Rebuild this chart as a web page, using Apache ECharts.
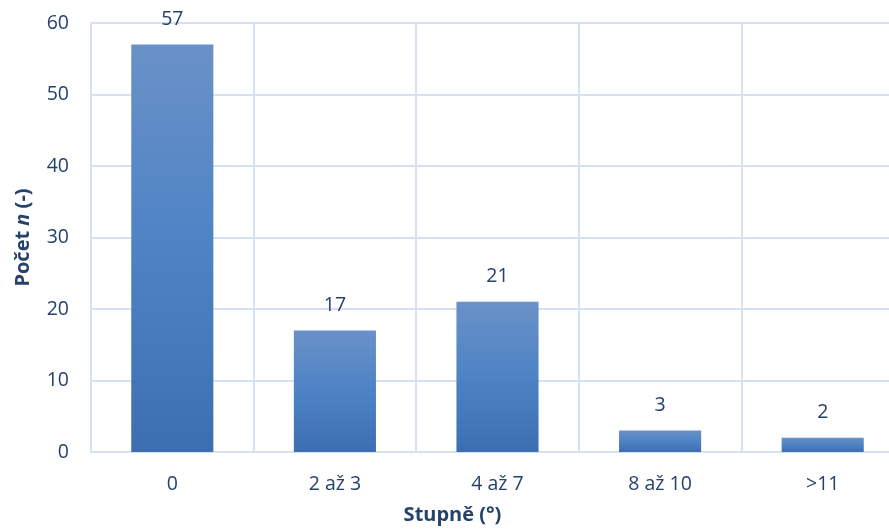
<!DOCTYPE html>
<html>
<head>
<meta charset="utf-8">
<script src="https://cdn.jsdelivr.net/npm/echarts@6/dist/echarts.min.js"></script>
<style>
  html, body { margin: 0; padding: 0; background: #ffffff; overflow: hidden; }
  /* the plot runs a little past the right edge of the window */
  #chart { width: 904px; height: 530px; }
</style>
</head>
<body>
<div id="chart"></div>
<script>
// Distribution of angles (degrees) by count
const categories = ['0', '2 až 3', '4 až 7', '8 až 10', '>11'];
const counts = [57, 17, 21, 3, 2];
const yTicks = { min: 0, max: 60, interval: 10 };

const textColor = '#25426c';
const gridColor = '#d6e1f1';
const fontFamily = '"Open Sans", "Noto Sans", sans-serif';

const chart = echarts.init(document.getElementById('chart'), null, { renderer: 'canvas' });

chart.setOption({
  animation: false,
  backgroundColor: '#ffffff',
  grid: { left: 91, right: 0, top: 23, bottom: 76, containLabel: false },
  xAxis: {
    type: 'category',
    data: categories,
    name: 'Stupně (°)',
    nameLocation: 'middle',
    nameGap: 53,
    nameTextStyle: { color: textColor, fontFamily: fontFamily, fontSize: 20, fontWeight: 'bold', padding: [0, 0, 0, -90] },
    axisLine: { show: true, lineStyle: { color: gridColor, width: 2 } },
    axisTick: { show: false },
    axisLabel: { color: textColor, fontFamily: fontFamily, fontSize: 19.5, margin: 22 },
    splitLine: { show: true, lineStyle: { color: gridColor, width: 2 } }
  },
  yAxis: {
    type: 'value',
    min: yTicks.min,
    max: yTicks.max,
    interval: yTicks.interval,
    name: '{b|Počet }{i|n}{b| (-)}',
    nameLocation: 'middle',
    nameGap: 58,
    nameRotate: 90,
    nameTextStyle: {
      rich: {
        b: { color: textColor, fontFamily: fontFamily, fontSize: 20, fontWeight: 'bold' },
        i: { color: textColor, fontFamily: fontFamily, fontSize: 20, fontWeight: 'bold', fontStyle: 'italic' }
      }
    },
    axisLine: { show: false },
    axisTick: { show: false },
    axisLabel: { color: textColor, fontFamily: fontFamily, fontSize: 19.5, margin: 22 },
    splitLine: { show: true, lineStyle: { color: gridColor, width: 2 } }
  },
  series: [{
    type: 'bar',
    data: counts,
    barWidth: '50.5%',
    itemStyle: {
      color: new echarts.graphic.LinearGradient(0, 0, 0, 1, [
        { offset: 0, color: '#6a91c7' },
        { offset: 0.5, color: '#4d83c5' },
        { offset: 1, color: '#3c6fb1' }
      ])
    },
    label: {
      show: true,
      position: 'top',
      distance: 15,
      color: textColor,
      fontFamily: fontFamily,
      fontSize: 19.5
    }
  }]
});
</script>
</body>
</html>
